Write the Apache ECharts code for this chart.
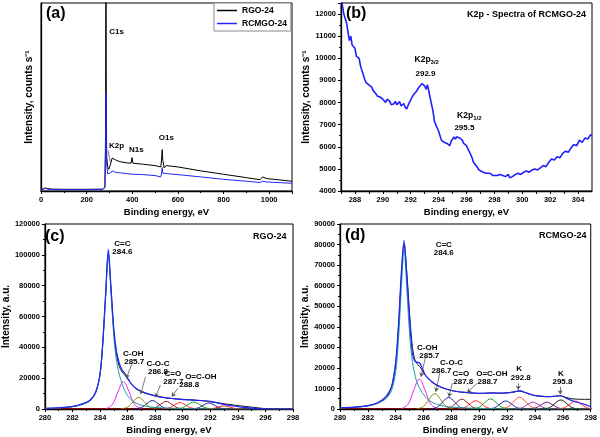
<!DOCTYPE html>
<html>
<head>
<meta charset="utf-8">
<script src="https://cdn.jsdelivr.net/npm/echarts@6.0.0/dist/echarts.min.js"></script>
<style>html,body{margin:0;padding:0;background:#fff}#c{width:600px;height:437px}</style>
</head>
<body>
<div id="c"></div>
<script>
// ---------------- DATA ----------------
// (a) survey spectra [binding energy eV, intensity (relative units)]
const surveyRGO = [[0,0.7],[10,1.2],[20,1.6],[30,1.2],[50,1.0],[100,0.9],[200,0.9],[270,1.0],[280,2.0],[283,30],[284.6,150],[286,50],[288,18],[292,13],[297,11.5],[300,12],[305,14.5],[312,17.5],[318,17.8],[330,16.3],[350,15.5],[380,14.9],[395,14.8],[399,17.8],[403,14.8],[450,14.2],[500,13.5],[525,12.8],[528,16],[531,22],[534,16.3],[540,12.3],[548,13.5],[555,13.9],[600,12.8],[700,10.7],[800,8.9],[900,7.1],[960,6.0],[970,7.5],[978,8.2],[990,6.6],[1100,5.2]];
const surveyRCMGO = [[0,0.7],[10,1.0],[20,1.3],[30,1.0],[50,0.8],[100,0.7],[200,0.7],[270,0.8],[280,1.8],[283,22],[284.6,52],[286,30],[288,14],[292,9.2],[297,8.7],[300,9],[305,9.6],[312,10.7],[318,10.6],[330,9.8],[350,9.6],[380,9.2],[395,9.0],[399,10.0],[403,9.0],[450,8.7],[500,8.2],[525,7.5],[528,9],[531,12.5],[534,9.5],[540,9.0],[555,9.2],[600,8.7],[700,7.5],[800,6.2],[900,5.2],[960,4.5],[970,5.2],[978,5.9],[990,4.8],[1100,4.1]];

// (b) K2p spectrum of RCMGO-24
const k2pSpectrum = [[287.0,12800],[287.2,12000],[287.4,11600],[287.5,11200],[287.6,10800],[287.7,11000],[287.8,10600],[288.0,10450],[288.1,10100],[288.3,10000],[288.4,9650],[288.5,9600],[288.7,9050],[288.8,8900],[289.0,8800],[289.2,8700],[289.3,8550],[289.5,8400],[289.6,8300],[289.8,8250],[290.0,8150],[290.2,8000],[290.3,8150],[290.5,8050],[290.6,7900],[290.8,7950],[290.9,8050],[291.0,7900],[291.2,8050],[291.3,7850],[291.5,7950],[291.6,7800],[291.7,7700],[291.9,8000],[292.1,8250],[292.2,8350],[292.4,8500],[292.5,8550],[292.6,8700],[292.7,8650],[292.8,8850],[292.9,8900],[293.0,8750],[293.1,8600],[293.2,8800],[293.3,8500],[293.4,8200],[293.5,7900],[293.6,7600],[293.7,7150],[293.8,7100],[293.9,6850],[294.0,6700],[294.1,6500],[294.2,6300],[294.4,6200],[294.5,6250],[294.6,6150],[294.7,6200],[294.8,6050],[294.9,6250],[295.0,6300],[295.1,6450],[295.2,6350],[295.3,6450],[295.5,6400],[295.6,6350],[295.7,6300],[295.8,6150],[296.0,6050],[296.1,5900],[296.3,5650],[296.4,5500],[296.5,5300],[296.6,5250],[296.8,5050],[296.9,4950],[297.0,4900],[297.2,4850],[297.4,4800],[297.5,4750],[297.7,4800],[297.9,4700],[298.0,4650],[298.2,4700],[298.4,4750],[298.6,4700],[298.8,4650],[299.0,4750],[299.1,4600],[299.3,4650],[299.5,4750],[299.7,4800],[299.9,4750],[300.1,4850],[300.3,4900],[300.5,4850],[300.7,4950],[300.9,5000],[301.1,4950],[301.3,5050],[301.5,5150],[301.7,5100],[301.9,5300],[302.1,5450],[302.3,5400],[302.5,5550],[302.7,5500],[302.9,5700],[303.1,5800],[303.3,5750],[303.5,5950],[303.7,6100],[303.9,6050],[304.1,6300],[304.3,6200],[304.5,6400],[304.7,6350],[304.9,6550],[305.0,6500]];

// (c) C1s of RGO-24
const cRaw = [[280,300],[281,700],[282,1500],[282.7,3000],[283.3,5600],[283.7,11000],[284,22500],[284.2,43000],[284.4,73000],[284.6,100500],[284.8,77000],[285,50000],[285.2,35000],[285.4,27500],[285.6,24000],[285.8,22000],[286,19500],[286.3,16000],[286.6,13200],[287,11200],[287.5,9600],[288,8600],[288.5,7700],[289,7000],[289.5,6500],[290,6300],[290.5,6000],[291,5700],[291.5,5300],[292,4700],[292.5,4100],[293,3400],[293.5,2800],[294,2200],[294.5,1700],[295,1200],[295.5,700],[296,200],[296.5,0],[298,0]];
const cFit = [[280,500],[281,800],[282,1700],[282.7,3300],[283.3,6000],[283.7,11500],[284,23000],[284.2,43500],[284.4,74000],[284.6,103500],[284.8,78000],[285,52000],[285.2,37000],[285.4,29500],[285.6,25500],[285.8,23000],[286,20000],[286.3,16000],[286.6,13500],[287,11500],[287.5,9800],[288,8500],[288.5,7500],[289,7000],[289.5,6600],[290,6100],[290.5,5900],[291,5600],[291.5,5400],[292,5000],[292.5,4000],[293,3000],[293.5,2200],[294,1600],[294.5,1000],[295,600],[295.5,300],[296,100],[296.5,0],[298,0]];
const cCC = [[280,400],[281,700],[282,1500],[282.7,3000],[283.3,5500],[283.7,11000],[284,22000],[284.2,42000],[284.4,72000],[284.6,101000],[284.8,74000],[285,47000],[285.2,31000],[285.5,19000],[285.9,10000],[286.4,5000],[287,2500],[288,1000],[290,300],[293,0],[298,0]];
const cCOH = [[284.4,150],[284.9,3000],[285.3,11300],[285.7,17700],[286.1,11300],[286.5,3000],[287,150]];
const cCOC = [[285.5,70],[286,1300],[286.4,4800],[286.8,7500],[287.2,4800],[287.6,1300],[288.1,70]];
const cCO = [[286.5,50],[287,950],[287.4,3500],[287.8,5500],[288.2,3500],[288.6,950],[289.1,50]];
const cOCOH = [[287.5,50],[288,850],[288.4,3100],[288.8,4900],[289.2,3100],[289.6,850],[290.1,50]];
const cP5 = [[288.5,40],[289,700],[289.4,2600],[289.8,4100],[290.2,2600],[290.6,700],[291.1,40]];
const cP6 = [[289.4,50],[290,900],[290.4,3000],[290.8,4500],[291.2,3000],[291.6,900],[292.2,50]];
const cP7 = [[290.6,40],[291.1,660],[291.5,2500],[291.9,3900],[292.3,2500],[292.7,660],[293.2,40]];
const cP8 = [[291.7,20],[292.2,340],[292.6,1280],[293,2000],[293.4,1280],[293.8,340],[294.3,20]];
const cBase = [[280,250],[298,250]];

// (d) C1s of RCMGO-24
const dRaw = [[280,500],[281,800],[282,1500],[282.7,2800],[283.3,5500],[283.7,10500],[284,22000],[284.2,40000],[284.4,64000],[284.6,80500],[284.8,66000],[285,46000],[285.2,30000],[285.4,23500],[285.6,21500],[285.8,20000],[286,17500],[286.3,15000],[286.6,13000],[287,11300],[287.5,10000],[288,9000],[288.5,8400],[289,8000],[289.5,7800],[290,7600],[290.5,7700],[291,7800],[291.5,7700],[292,7900],[292.5,8300],[292.9,8700],[293.3,8000],[293.7,7000],[294,6600],[294.5,6200],[295,6000],[295.4,6200],[295.8,6400],[296.2,5700],[296.6,5000],[297,4800],[297.5,4700],[298,4700]];
const dFit = [[280,600],[281,900],[282,1600],[282.7,3000],[283.3,6000],[283.7,11000],[284,23000],[284.2,41000],[284.4,66000],[284.6,82000],[284.8,64000],[285,43000],[285.2,27000],[285.35,23500],[285.5,22800],[285.7,22500],[285.9,20000],[286.1,16800],[286.4,14500],[286.7,12800],[287,11500],[287.5,10000],[288,9000],[288.5,8400],[289,8100],[289.5,7800],[290,7600],[290.5,7700],[291,7800],[291.5,7700],[292,7800],[292.5,8300],[292.9,8900],[293.3,8000],[293.7,7100],[294,6500],[294.5,6100],[295,6000],[295.4,6200],[295.8,6500],[296.2,5400],[296.6,4200],[297,3300],[297.5,2400],[298,1100]];
const dCC = [[280,500],[281,800],[282,1500],[282.7,2800],[283.3,5000],[283.7,9000],[284,18000],[284.2,34000],[284.4,58000],[284.6,77500],[284.8,58000],[285,36000],[285.2,23000],[285.5,13500],[285.9,8000],[286.4,4200],[287,2200],[288,900],[290,300],[293,0],[298,0]];
const dCOH = [[284.4,100],[284.9,2500],[285.3,9300],[285.7,14500],[286.1,9300],[286.5,2500],[287,100]];
const dCOC = [[285.5,70],[286,1300],[286.4,4800],[286.8,7500],[287.2,4800],[287.6,1300],[288.1,70]];
const dCO = [[286.5,50],[287,950],[287.4,3600],[287.8,5600],[288.2,3600],[288.6,950],[289.1,50]];
const dOCOH = [[287.45,50],[287.95,820],[288.35,3100],[288.75,4800],[289.15,3100],[289.55,820],[290.05,50]];
const dP5 = [[288.45,40],[288.95,680],[289.35,2600],[289.75,4000],[290.15,2600],[290.55,680],[291.05,40]];
const dP6 = [[289.4,50],[290,900],[290.4,3200],[290.8,4900],[291.2,3200],[291.6,900],[292.2,50]];
const dP7 = [[290.6,40],[291.1,660],[291.5,2500],[291.9,3900],[292.3,2500],[292.7,660],[293.2,40]];
const dK1 = [[291.5,60],[292.05,1000],[292.5,3800],[292.9,5800],[293.3,3800],[293.75,1000],[294.3,60]];
const dP9 = [[292.55,30],[293.05,560],[293.45,2100],[293.85,3300],[294.25,2100],[294.65,560],[295.15,30]];
const dP10 = [[293.55,30],[294.05,560],[294.45,2100],[294.85,3300],[295.25,2100],[295.65,560],[296.15,30]];
const dK2 = [[294.5,40],[295.05,720],[295.45,2800],[295.85,4400],[296.25,2800],[296.65,720],[297.15,40]];
const dP12 = [[295.6,40],[296.1,650],[296.5,2400],[296.9,3800],[297.3,2400],[297.7,650],[298.2,40]];
const dBase = [[280,250],[298,250]];

// ---------------- CHART ----------------
const FAM = 'Liberation Sans, Arial, sans-serif';
const chart = echarts.init(document.getElementById('c'), null, {renderer:'canvas'});

function lbl(showMax, extra) {
  return Object.assign({color:'#000', fontWeight:'bold', fontSize:7.5, fontFamily:FAM, margin:5, showMaxLabel:showMax, formatter: v => String(v)}, extra || {});
}
function xAxisCfg(gi, min, max, interval, showMax, extra) {
  return Object.assign({
    gridIndex: gi, type: 'value', min: min, max: max, interval: interval,
    name: 'Binding energy, eV', nameLocation: 'middle', nameGap: 16,
    nameTextStyle: {color:'#000', fontWeight:'bold', fontSize:9.5, fontFamily:FAM},
    axisLine: {show:true, onZero:false, lineStyle:{color:'#000', width:1.3}},
    axisTick: {show:true, length:3, lineStyle:{color:'#000', width:1}},
    minorTick: {show:true, splitNumber:2, length:2, lineStyle:{color:'#000', width:1}},
    splitLine: {show:false},
    axisLabel: lbl(showMax)
  }, extra || {});
}
function yAxisCfg(gi, min, max, interval, name, gap, showMax, extra) {
  return Object.assign({
    gridIndex: gi, type: 'value', min: min, max: max, interval: interval,
    name: name, nameLocation: 'middle', nameGap: gap,
    nameTextStyle: {color:'#000', fontWeight:'bold', fontSize:10, fontFamily:FAM},
    axisLine: {show:true, onZero:false, lineStyle:{color:'#000', width:1.3}},
    axisTick: {show:true, length:3, lineStyle:{color:'#000', width:1}},
    minorTick: {show:true, splitNumber:2, length:2, lineStyle:{color:'#000', width:1}},
    splitLine: {show:false},
    axisLabel: lbl(showMax)
  }, extra || {});
}
function line(name, data, gi, color, width, smooth, extra) {
  return Object.assign({
    name: name, type: 'line', data: data, xAxisIndex: gi, yAxisIndex: gi,
    showSymbol: false, symbol: 'none', smooth: smooth, clip: true,
    lineStyle: {color: color, width: width}, itemStyle: {color: color},
    emphasis: {disabled: true}, silent: true, animation: false
  }, extra || {});
}
const labelStyle = {show:true, position:'inside', color:'#000', fontWeight:'bold', fontSize:8, fontFamily:FAM,
  rich: {m:{fontSize:8.5, fontWeight:'bold', fontFamily:FAM, color:'#000', lineHeight:12},
         s:{fontSize:6, fontWeight:'bold', fontFamily:FAM, color:'#000', lineHeight:6, verticalAlign:'bottom'}}};
function labels(items) {
  return {symbol:'circle', symbolSize:0, silent:true, animation:false, label: labelStyle,
    data: items.map(it => ({coord:[it[1], it[2]], value:0, label:{formatter: it[0]}}))};
}
function arrows(items, sym) {
  return {silent:true, animation:false, symbol: sym || ['none','arrow'], symbolSize: 4,
    lineStyle:{color:'#555', width:0.8, type:'solid'}, label:{show:false}, emphasis:{disabled:true},
    data: items.map(a => [{coord:[a[0],a[1]]},{coord:[a[2],a[3]]}])};
}
const TS = (size) => ({fontSize:size, fontWeight:'bold', color:'#000', fontFamily:FAM});

const option = {
  animation: false,
  backgroundColor: '#fff',
  textStyle: {fontFamily: FAM},
  title: [
    {text:'(a)', left:46, top:6, padding:0, textStyle:TS(16)},
    {text:'(b)', left:346, top:6, padding:0, textStyle:TS(16)},
    {text:'(c)', left:45, top:229, padding:0, textStyle:TS(16)},
    {text:'(d)', left:345, top:228, padding:0, textStyle:TS(16)},
    {text:'K2p - Spectra of RCMGO-24', left:467, top:10, padding:0, textStyle:TS(9)},
    {text:'RGO-24', left:253, top:232, padding:0, textStyle:TS(9)},
    {text:'RCMGO-24', left:539, top:231, padding:0, textStyle:TS(9)}
  ],
  legend: {
    data: [{name:'RGO-24', icon:'rect'}, {name:'RCMGO-24', icon:'rect'}], left: 214, top: 3, orient: 'vertical', align: 'left',
    backgroundColor: '#fff', borderColor: '#888', borderWidth: 1, padding: [3,4,3,3],
    itemGap: 4, itemWidth: 20, itemHeight: 1.5, selectedMode: false,
    textStyle: {fontSize: 8.5, fontWeight: 'bold', color: '#000', fontFamily: FAM}
  },
  grid: [
    {left:41, top:3, width:251, height:188, show:true, borderColor:'#000', borderWidth:1, backgroundColor:'transparent'},
    {left:341, top:3, width:251, height:188, show:true, borderColor:'#000', borderWidth:1, backgroundColor:'transparent'},
    {left:41, top:224, width:252, height:185, show:true, borderColor:'#000', borderWidth:1, backgroundColor:'transparent'},
    {left:340, top:224, width:253, height:185, show:true, borderColor:'#000', borderWidth:1, backgroundColor:'transparent'}
  ],
  xAxis: [
    xAxisCfg(0, 0, 1100, 200, false),
    xAxisCfg(1, 287, 305, 1, false, {minorTick:{show:false}, axisLabel: lbl(false, {formatter: v => (v % 2 === 0 ? String(v) : '')})}),
    xAxisCfg(2, 280, 298, 2, true),
    xAxisCfg(3, 280, 298, 2, true)
  ],
  yAxis: [
    yAxisCfg(0, 0, 100, 20, 'Intensity, counts s\u207B\u00B9', 7, false, {axisTick:{show:false}, minorTick:{show:false}, axisLabel:{show:false}}),
    yAxisCfg(1, 4000, 12500, 1000, 'Intensity, counts s\u207B\u00B9', 28, false),
    yAxisCfg(2, 0, 120000, 20000, 'Intensity, a.u.', 29, true),
    yAxisCfg(3, 0, 90000, 10000, 'Intensity, a.u.', 30, true)
  ],
  series: [
    // (a)
    line('RGO-24', surveyRGO, 0, '#000', 1, false, {
      markPoint: labels([['C1s',331,84.7],['K2p',331,24.0],['N1s',418,21.7],['O1s',549,28.2]]),
      markLine: arrows([[294,21.5,306,14.2]], ['none','none'])
    }),
    line('RCMGO-24', surveyRCMGO, 0, '#2424ff', 1, false),
    // (b)
    line('k2p', k2pSpectrum, 1, '#2020ff', 1.6, false, {
      markPoint: labels([['{m|K2p}{s|3/2}',293.15,9930],['292.9',293.06,9290],['{m|K2p}{s|1/2}',296.2,7410],['295.5',295.85,6860]])
    }),
    // (c)
    line('cRaw', cRaw, 2, '#111', 1, 0.3),
    line('cBase', cBase, 2, '#8b0000', 1.2, false),
    line('cCOH', cCOH, 2, '#f020f0', 1, 0.4),
    line('cCOC', cCOC, 2, '#8a8a00', 1, 0.4),
    line('cCO', cCO, 2, '#1a1a9a', 1, 0.4),
    line('cOCOH', cOCOH, 2, '#8b1a1a', 1, 0.4),
    line('cP5', cP5, 2, '#ff2020', 1, 0.4),
    line('cP6', cP6, 2, '#1a9a1a', 1, 0.4),
    line('cP7', cP7, 2, '#1a1a9a', 1, 0.4),
    line('cP8', cP8, 2, '#ff2020', 1, 0.4),
    line('cCC', cCC, 2, '#1c9c9c', 1, 0.3),
    line('cFit', cFit, 2, '#2424ff', 1.2, 0.3, {
      markPoint: labels([['C=C\n284.6',285.62,104700],['C-OH',286.41,35700],['285.7',286.48,30300],['C-O-C',288.2,29200],['286.8',288.2,24200],['C=O',289.28,23100],['287.7',289.32,17700],['O=C-OH',291.31,21000],['288.8',290.47,15600]]),
      markLine: arrows([[286.3,29000,285.9,19900],[287.3,20900,286.95,9700],[288.38,15600,288.02,7600],[289.64,13400,289.21,8000]])
    }),
    // (d)
    line('dRaw', dRaw, 3, '#111', 1, 0.3),
    line('dBase', dBase, 3, '#8b0000', 1.2, false),
    line('dCOH', dCOH, 3, '#f020f0', 1, 0.4),
    line('dCOC', dCOC, 3, '#8a8a00', 1, 0.4),
    line('dCO', dCO, 3, '#1a1a9a', 1, 0.4),
    line('dOCOH', dOCOH, 3, '#8b1a1a', 1, 0.4),
    line('dP5', dP5, 3, '#ff2020', 1, 0.4),
    line('dP6', dP6, 3, '#1a9a1a', 1, 0.4),
    line('dP7', dP7, 3, '#1a1a9a', 1, 0.4),
    line('dK1', dK1, 3, '#ff4a2a', 1, 0.4),
    line('dP9', dP9, 3, '#9a30a0', 1, 0.4),
    line('dP10', dP10, 3, '#800080', 1, 0.4),
    line('dK2', dK2, 3, '#111', 1, 0.4),
    line('dP12', dP12, 3, '#ff2020', 1, 0.4),
    line('dCC', dCC, 3, '#1c9c9c', 1, 0.3),
    line('dFit', dFit, 3, '#2424ff', 1.2, 0.3, {
      markPoint: labels([['C=C\n284.6',287.45,77750],['C-OH',286.26,30000],['285.7',286.41,26000],['C-O-C',288.01,22700],['286.7',287.29,18650],['C=O',288.68,17000],['287.8',288.85,13000],['O=C-OH',290.9,17000],['288.7',290.59,13000],['K',292.86,19500],['292.8',292.98,15400],['K',295.85,17000],['295.8',295.97,13000]]),
      markLine: arrows([[286.12,24700,285.81,15700],[287.16,17400,286.88,8400],[288.06,12500,287.82,5900],[289.84,12500,289.13,8000],[292.8,12500,292.8,9400],[295.81,10800,295.81,7200]])
    })
  ]
};
chart.setOption(option);
</script>
</body>
</html>
